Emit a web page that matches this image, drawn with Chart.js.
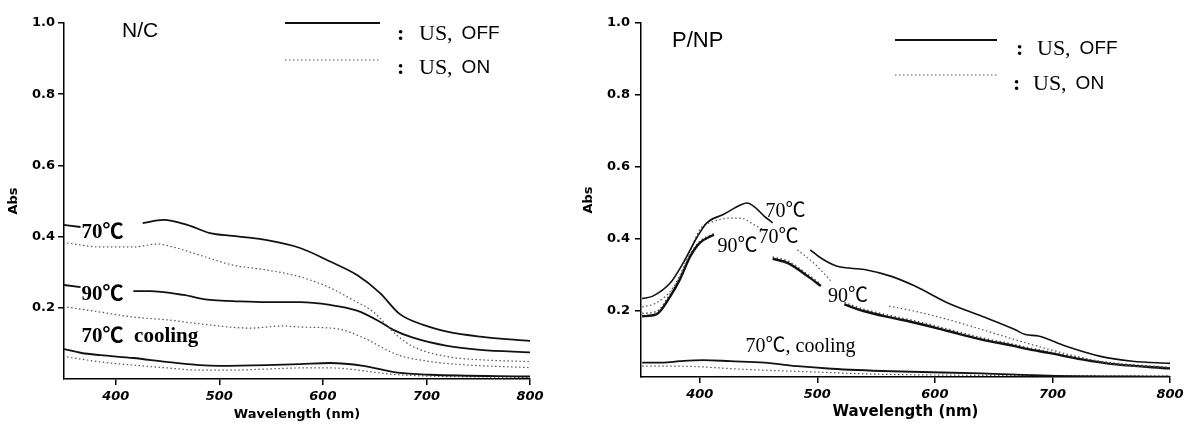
<!DOCTYPE html>
<html><head><meta charset="utf-8">
<script src="https://cdn.jsdelivr.net/npm/chart.js@4.4.1/dist/chart.umd.min.js"></script>
<style>
html,body{margin:0;padding:0;background:#fff;}
#wrap{position:relative;width:1191px;height:425px;overflow:hidden;background:#fff;}
canvas{position:absolute;top:0;}
#c1{left:0;} #c2{left:575px;}
</style></head><body>
<div id="wrap"><canvas id="c1" width="590" height="425"></canvas><canvas id="c2" width="616" height="425"></canvas></div>
<script>
// ---------- tick labels ----------
const xTickValues = [400, 500, 600, 700, 800];
const yTickValues = [0.2, 0.4, 0.6, 0.8, 1.0];

// ---------- N/C panel (wavelength nm, absorbance) ----------
const ncWl70Off  = [350,366,395,426,446,469,491,513,546,578,607,633,655,674,697,720,752,800];
const ncAbs70Off = [0.433,0.427,null,0.438,0.447,0.433,0.410,0.402,0.390,0.368,0.330,0.292,0.242,0.183,0.152,0.133,0.119,0.107];
const ncWl70On   = [353,385,417,440,455,481,513,546,578,607,629,648,671,687,720,752,800];
const ncAbs70On  = [0.382,0.371,0.371,0.379,0.371,0.348,0.320,0.306,0.287,0.256,0.222,0.190,0.124,0.091,0.063,0.054,0.049];
const ncWl90Off  = [350,366,392,417,433,465,491,513,546,578,607,633,655,668,687,720,752,800];
const ncAbs90Off = [0.264,0.258,null,0.247,0.247,0.236,0.222,0.219,0.216,0.216,0.208,0.192,0.161,0.138,0.116,0.093,0.082,0.075];
const ncWl90On   = [353,385,417,450,475,530,562,578,614,639,672,704,736,800];
const ncAbs90On  = [0.202,0.188,0.174,0.166,0.157,0.143,0.149,0.146,0.141,0.116,0.068,0.049,0.040,0.032];
const ncWlCoolOff  = [350,367,385,417,449,481,500,546,578,607,639,672,704,800];
const ncAbsCoolOff = [0.084,0.073,0.067,0.059,0.048,0.039,0.037,0.039,0.042,0.045,0.037,0.018,0.012,0.007];
const ncWlCoolOn   = [353,385,417,450,481,513,546,578,607,672,800];
const ncAbsCoolOn  = [0.062,0.048,0.039,0.031,0.025,0.025,0.028,0.031,0.031,0.012,0.004];

// ---------- P/NP panel ----------
const pnWl70Off  = [351,360,375,386,398,406,420,435,440,446,455,462,478,494,503,517,540,563,583,611,640,668,677,688,711,740,768,800];
const pnAbs70Off = [0.233,0.240,0.277,0.333,0.406,0.444,0.467,0.494,0.499,0.490,0.462,0.444,null,0.369,0.346,0.323,0.314,0.295,0.268,0.221,0.184,0.147,0.133,0.129,0.101,0.073,0.059,0.053];
const pnWl70On   = [351,363,378,389,400,412,426,435,446,457,469,483,497,512,535,561,583,611,640,668,697,725,754,800];
const pnAbs70On  = [0.210,0.221,0.267,0.342,0.425,0.448,0.457,0.457,0.439,0.420,null,0.369,0.332,0.281,null,0.212,0.198,0.175,0.147,0.119,0.092,0.069,0.050,0.041];
const pnWl90     = [351,363,375,383,392,400,412,435,462,475,492,503,513,523,540,563,583,611,640,668,677,697,725,754,800];
const pnAbs90Off = [0.184,0.189,0.240,0.286,0.351,0.388,0.411,null,0.344,0.332,0.295,0.268,null,0.217,0.198,0.180,0.166,0.143,0.119,0.101,0.094,0.082,0.064,0.050,0.039];
const pnAbs90On  = [0.192,0.197,0.247,0.292,0.356,0.392,0.414,null,0.349,0.337,0.300,0.273,null,0.222,0.203,0.185,0.171,0.148,0.124,0.105,0.098,0.085,0.067,0.053,0.042];
const pnWlCoolOff  = [351,369,383,403,426,455,483,512,563,640,697,800];
const pnAbsCoolOff = [0.055,0.055,0.059,0.062,0.059,0.055,0.045,0.038,0.031,0.025,0.019,0.016];
const pnWlCoolOn   = [351,383,440,497,563,800];
const pnAbsCoolOn  = [0.045,0.045,0.036,0.029,0.022,0.018];

// ---------- text ----------
const axisTitleX = 'Wavelength (nm)';
const axisTitleY = 'Abs';
const legendOff = ['US,', 'OFF'];
const legendOn  = ['US,', 'ON'];

function pts(xs, ys) { return xs.map((x, i) => ({x: x, y: ys[i]})); }

const SOLID = {borderColor: '#111', borderWidth: 1.8, borderDash: []};
const DOTTED = {borderColor: '#555', borderWidth: 1.2, borderDash: [1.5, 2.5]};

function ds(xs, ys, style, width) {
  return Object.assign({data: pts(xs, ys), spanGaps: false, pointRadius: 0,
    cubicInterpolationMode: 'monotone', fill: false}, style, width ? {borderWidth: width} : {});
}

const SERIF = '"Liberation Serif", "Times New Roman", "Noto Sans CJK KR", serif';
const SANS = '"Liberation Sans", Arial, sans-serif';

function makePanel(id, p) {
  const deco = {
    id: 'deco',
    afterDatasetsDraw(chart) {
      const ctx = chart.ctx, xs = chart.scales.x, ys = chart.scales.y;
      ctx.save();
      ctx.fillStyle = '#000';
      ctx.textAlign = 'left';
      ctx.textBaseline = 'middle';
      p.labels.forEach(l => {
        ctx.font = l.font;
        ctx.fillText(l.text, xs.getPixelForValue(l.x), ys.getPixelForValue(l.y));
      });
      // panel title
      ctx.font = p.title.font;
      ctx.fillText(p.title.text, p.title.px, p.title.py);
      // legend
      p.legend.forEach(e => {
        ctx.save();
        ctx.strokeStyle = e.style.borderColor;
        ctx.lineWidth = e.lw;
        ctx.setLineDash(e.style.borderDash);
        ctx.beginPath(); ctx.moveTo(e.x0, e.ly); ctx.lineTo(e.x1, e.ly); ctx.stroke();
        ctx.restore();
        ctx.font = 'bold 22px ' + SERIF;
        ctx.fillText(':', e.cx, e.ty);
        ctx.font = '22px ' + SERIF;
        ctx.fillText(e.words[0], e.ux, e.ty);
        const w0 = ctx.measureText(e.words[0]).width;
        ctx.font = '19px ' + SANS;
        ctx.fillText(e.words[1], e.ux + w0 + 9, e.ty);
      });
      ctx.restore();
    }
  };
  return new Chart(document.getElementById(id), {
    type: 'line',
    data: {datasets: p.datasets},
    options: {
      responsive: false, animation: false,
      layout: {padding: {left: 0, top: 23, right: p.padRight, bottom: 0}},
      plugins: {legend: {display: false}, tooltip: {enabled: false}},
      scales: {
        x: {
          type: 'linear', min: 350, max: 800,
          afterBuildTicks: s => { s.ticks = xTickValues.map(v => ({value: v})); },
          afterFit: s => { s.height = p.xH; },
          grid: {drawOnChartArea: false, drawTicks: true, tickLength: 6, color: '#000', lineWidth: 1.5},
          border: {display: true, color: '#000', width: 1.5},
          ticks: {color: '#000', padding: 4, maxRotation: 0, autoSkip: false,
            font: {family: 'DejaVu Sans', weight: 'bold', style: 'italic', size: 13},
            callback: v => String(v)},
          title: {display: true, text: axisTitleX, color: '#000',
            font: {family: 'DejaVu Sans', weight: 'bold', size: p.xTitleSize},
            padding: {top: 0, bottom: p.xTitlePad}}
        },
        y: {
          type: 'linear', min: p.yMin, max: 1.0,
          afterBuildTicks: s => { s.ticks = yTickValues.map(v => ({value: v})); },
          afterFit: s => { s.width = p.yW; },
          grid: {drawOnChartArea: false, drawTicks: true, tickLength: 6, color: '#000', lineWidth: 1.5},
          border: {display: true, color: '#000', width: 1.5},
          ticks: {color: '#000', padding: p.yTickPad,
            font: {family: 'DejaVu Sans', weight: 'bold', size: 13},
            callback: v => Number(v).toFixed(1)},
          title: {display: true, text: axisTitleY, color: '#000',
            font: {family: 'DejaVu Sans', weight: 'bold', size: 13},
            padding: {top: 6, bottom: 0}}
        }
      }
    },
    plugins: [deco]
  });
}

const labelBold = 'bold 21px ' + SERIF;
const labelReg = '20px ' + SERIF;

makePanel('c1', {
  padRight: 60, xH: 46, yW: 64, yMin: 0, yTickPad: 3, xTitleSize: 13, xTitlePad: 3,
  datasets: [
    ds(ncWl70Off, ncAbs70Off, SOLID),
    ds(ncWl70On, ncAbs70On, DOTTED),
    ds(ncWl90Off, ncAbs90Off, SOLID),
    ds(ncWl90On, ncAbs90On, DOTTED),
    ds(ncWlCoolOff, ncAbsCoolOff, SOLID),
    ds(ncWlCoolOn, ncAbsCoolOn, DOTTED)
  ],
  labels: [
    {text: '70℃', x: 367, y: 0.41, font: labelBold},
    {text: '90℃', x: 367, y: 0.236, font: labelBold},
    {text: '70℃  cooling', x: 367, y: 0.119, font: labelBold}
  ],
  title: {text: 'N/C', px: 122, py: 31, font: '21px ' + SANS},
  legend: [
    {style: SOLID, lw: 2, x0: 285, x1: 380, ly: 23, cx: 397, ux: 419, ty: 34, words: legendOff},
    {style: DOTTED, lw: 1.2, x0: 285, x1: 380, ly: 60, cx: 397, ux: 419, ty: 68, words: legendOn}
  ]
});

makePanel('c2', {
  padRight: 21, xH: 48, yW: 66, yMin: 0.015, yTickPad: 5, xTitleSize: 15, xTitlePad: 4,
  datasets: [
    ds(pnWl70Off, pnAbs70Off, SOLID, 1.6),
    ds(pnWl70On, pnAbs70On, DOTTED),
    ds(pnWl90, pnAbs90Off, SOLID, 2.4),
    ds(pnWl90, pnAbs90On, DOTTED, 1.6),
    ds(pnWlCoolOff, pnAbsCoolOff, SOLID, 1.8),
    ds(pnWlCoolOn, pnAbsCoolOn, DOTTED)
  ],
  labels: [
    {text: '70℃', x: 456, y: 0.475, font: labelReg},
    {text: '70℃', x: 450, y: 0.403, font: labelReg},
    {text: '90℃', x: 415, y: 0.378, font: labelReg},
    {text: '90℃', x: 509, y: 0.239, font: labelReg},
    {text: '70℃, cooling', x: 439, y: 0.10, font: labelReg}
  ],
  title: {text: 'P/NP', px: 97, py: 41, font: '22px ' + SANS},
  legend: [
    {style: SOLID, lw: 2, x0: 320, x1: 422, ly: 40, cx: 441, ux: 462, ty: 49, words: legendOff},
    {style: DOTTED, lw: 1.2, x0: 320, x1: 422, ly: 75, cx: 438, ux: 458, ty: 84, words: legendOn}
  ]
});
</script>
</body></html>
